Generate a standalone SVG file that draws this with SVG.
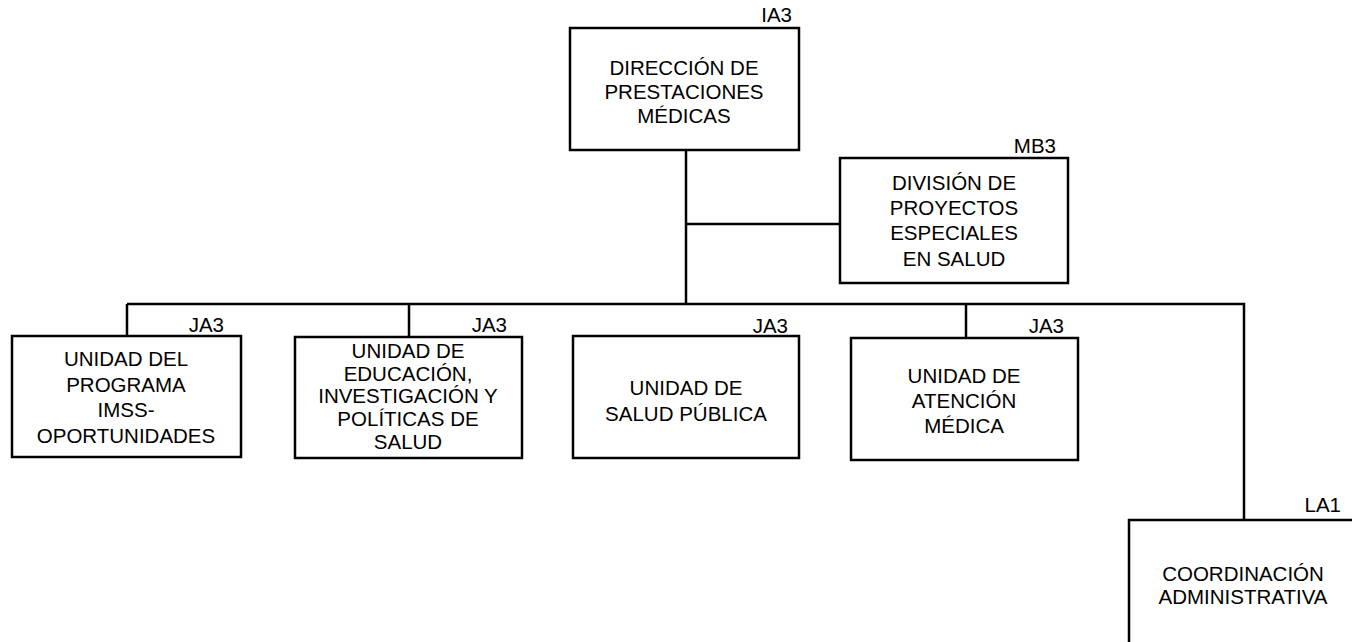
<svg xmlns="http://www.w3.org/2000/svg" width="1352" height="642" viewBox="0 0 1352 642">
<style>
.box{fill:#fff;stroke:#000;stroke-width:2.5}
.ln{fill:none;stroke:#000;stroke-width:2.5}
text{font-family:"Liberation Sans",Arial,sans-serif;font-size:20.5px;fill:#000}
.c{text-anchor:middle}
.r{text-anchor:end}
</style>
<rect width="1352" height="642" fill="#fff"/>
<g id="connectors">
<path class="ln" d="M686 150 V304 M686 224 H840 M127 304 H1244 V520 M127 304 V336 M409 304 V337 M966 304 V338"/>
</g>
<g id="n-direccion">
<rect class="box" x="570" y="28" width="229" height="122"/>
<text class="r" x="792" y="22">IA3</text>
<text class="c" x="684" y="75">DIRECCIÓN DE</text>
<text class="c" x="684" y="99">PRESTACIONES</text>
<text class="c" x="684" y="123">MÉDICAS</text>
</g>
<g id="n-division">
<rect class="box" x="840" y="158" width="228" height="125"/>
<text class="r" x="1056" y="153">MB3</text>
<text class="c" x="954" y="190">DIVISIÓN DE</text>
<text class="c" x="954" y="215">PROYECTOS</text>
<text class="c" x="954" y="240">ESPECIALES</text>
<text class="c" x="954" y="266">EN SALUD</text>
</g>
<g id="n-imss">
<rect class="box" x="12" y="336" width="229" height="121"/>
<text class="r" x="224" y="332">JA3</text>
<text class="c" x="126" y="366">UNIDAD DEL</text>
<text class="c" x="126" y="392">PROGRAMA</text>
<text class="c" x="126" y="417">IMSS-</text>
<text class="c" x="126" y="443">OPORTUNIDADES</text>
</g>
<g id="n-educacion">
<rect class="box" x="295" y="337" width="227" height="121"/>
<text class="r" x="507" y="332">JA3</text>
<text class="c" x="408" y="358">UNIDAD DE</text>
<text class="c" x="408" y="381">EDUCACIÓN,</text>
<text class="c" x="408" y="403">INVESTIGACIÓN Y</text>
<text class="c" x="408" y="426">POLÍTICAS DE</text>
<text class="c" x="408" y="449">SALUD</text>
</g>
<g id="n-salud">
<rect class="box" x="573" y="336" width="226" height="122"/>
<text class="r" x="788" y="333">JA3</text>
<text class="c" x="686" y="395">UNIDAD DE</text>
<text class="c" x="686" y="421">SALUD PÚBLICA</text>
</g>
<g id="n-atencion">
<rect class="box" x="851" y="338" width="227" height="122"/>
<text class="r" x="1064" y="333">JA3</text>
<text class="c" x="964" y="383">UNIDAD DE</text>
<text class="c" x="964" y="408">ATENCIÓN</text>
<text class="c" x="964" y="433">MÉDICA</text>
</g>
<g id="n-coordinacion">
<rect class="box" x="1129" y="520" width="240" height="140"/>
<text class="r" x="1341" y="512">LA1</text>
<text class="c" x="1243" y="581">COORDINACIÓN</text>
<text class="c" x="1243" y="604">ADMINISTRATIVA</text>
</g>
</svg>
